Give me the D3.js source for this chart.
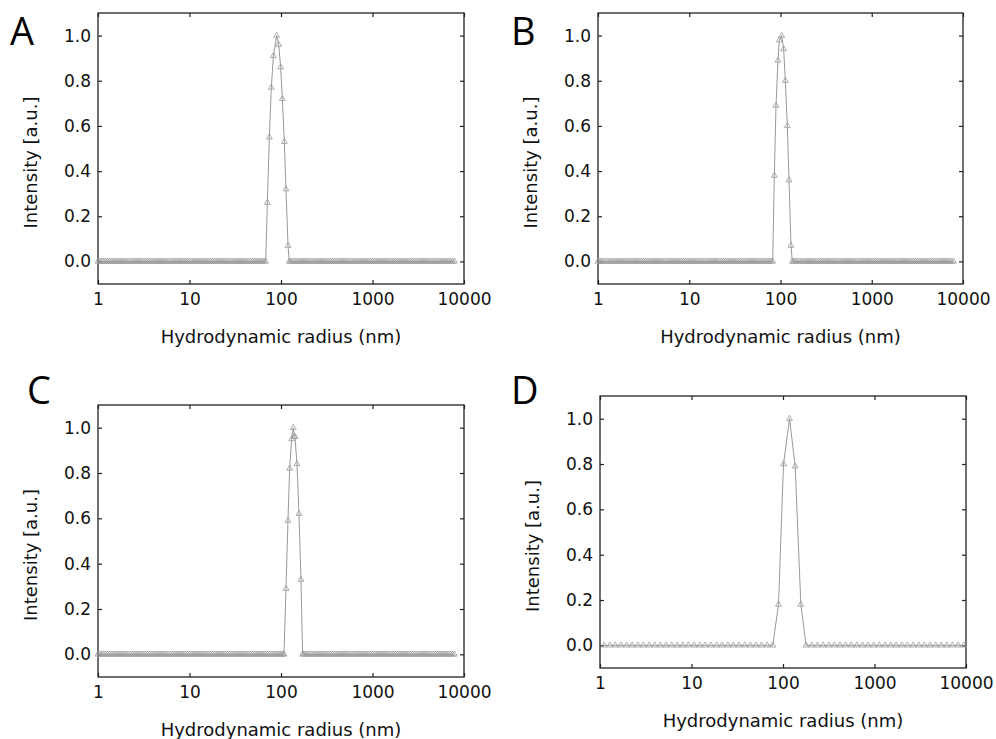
<!DOCTYPE html>
<html>
<head>
<meta charset="utf-8">
<script src="https://cdn.jsdelivr.net/npm/d3@7"></script>
<style>
  body { margin: 0; background: #fff; }
  svg { display: block; }
  .tick text { font-family: "DejaVu Sans", sans-serif; font-size: 17px; fill: #111; }
</style>
</head>
<body>
<svg id="chart" width="996" height="739"></svg>
<script>
// Size bins of the dense panels (A, B, C), all at zero intensity outside the peak
var fineBins = [
  1, 1.05, 1.10, 1.15, 1.21, 1.27, 1.33, 1.40, 1.47, 1.54, 1.62, 1.70, 1.78, 1.87, 1.96, 2.05,
  2.15, 2.26, 2.37, 2.49, 2.61, 2.74, 2.87, 3.01, 3.16, 3.32, 3.48, 3.65, 3.83, 4.02, 4.22, 4.42,
  4.64, 4.87, 5.11, 5.36, 5.62, 5.90, 6.19, 6.49, 6.81, 7.15, 7.50, 7.87, 8.25, 8.66, 9.09, 9.53,
  10.0, 10.5, 11.0, 11.5, 12.1, 12.7, 13.3, 14.0, 14.7, 15.4, 16.2, 17.0, 17.8, 18.7, 19.6, 20.5,
  21.5, 22.6, 23.7, 24.9, 26.1, 27.4, 28.7, 30.1, 31.6, 33.2, 34.8, 36.5, 38.3, 40.2, 42.2, 44.2,
  46.4, 48.7, 51.1, 53.6, 56.2, 59.0, 61.9, 64.9, 68.1, 71.5, 75.0, 78.7, 82.5, 86.6, 90.9, 95.3,
  100, 105, 110, 115, 121, 127, 133, 140, 147, 154, 162, 170, 178, 187, 196, 205,
  215, 226, 237, 249, 261, 274, 287, 301, 316, 332, 348, 365, 383, 402, 422, 442,
  464, 487, 511, 536, 562, 590, 619, 649, 681, 715, 750, 787, 825, 866, 909, 953,
  1000, 1050, 1100, 1150, 1210, 1270, 1330, 1400, 1470, 1540, 1620, 1700, 1780, 1870, 1960, 2050,
  2150, 2260, 2370, 2490, 2610, 2740, 2870, 3010, 3160, 3320, 3480, 3650, 3830, 4020, 4220, 4420,
  4640, 4870, 5110, 5360, 5620, 5900, 6190, 6490, 6810, 7150, 7500, 7870
];

// Size bins of panel D (coarser)
var coarseBins = [
  1.11, 1.28, 1.47, 1.69, 1.95, 2.25, 2.59, 2.98, 3.44, 3.96, 4.56, 5.26, 6.06, 6.98, 8.04, 9.26,
  10.7, 12.3, 14.1, 16.3, 18.8, 21.6, 24.9, 28.7, 33.1, 38.1, 43.9, 50.6, 58.3, 67.2, 77.4,
  179, 206, 238, 274, 316, 364, 419, 483, 557, 641, 739, 851, 981, 1130, 1302, 1500, 1728,
  1991, 2294, 2642, 3044, 3507, 4040, 4654, 5362, 6177, 7116, 8198, 9444
];

// Peak points
var radiusA = [68.0, 70.9, 74.6, 78.4, 82.5, 89.7, 94.3, 99.2, 103.4, 108.7, 113.4, 119.3, 123.3];
var intensityA = [0, 0.26, 0.55, 0.77, 0.91, 1.0, 0.96, 0.86, 0.72, 0.53, 0.32, 0.07, 0];

var radiusB = [82.1, 85.6, 89.3, 93.9, 97.1, 103.0, 108.3, 112.9, 118.8, 123.9, 130.3, 134.7];
var intensityB = [0, 0.38, 0.69, 0.89, 0.98, 1.0, 0.94, 0.80, 0.60, 0.36, 0.07, 0];

var radiusC = [107.8, 113.4, 119.2, 124.3, 130.7, 136.3, 140.0, 142.1, 149.5, 157.2, 165.3, 172.3];
var intensityC = [0, 0.29, 0.59, 0.82, 0.95, 1.0, 0.96, 0.96, 0.84, 0.62, 0.33, 0];

var radiusD = [77.4, 89.3, 101.3, 117.8, 135.9, 156.7, 179];
var intensityD = [0, 0.18, 0.80, 1.0, 0.79, 0.18, 0];

var xTicks = [1, 10, 100, 1000, 10000];
var yTicks = [0, 0.2, 0.4, 0.6, 0.8, 1.0];
var panelLetters = ["A", "B", "C", "D"];
var xTitle = "Hydrodynamic radius (nm)";
var yTitle = "Intensity [a.u.]";

// Frame of each panel in page pixels
var boxes = [
  { left: 98, top: 13, width: 366, height: 271, lx: 10, ly: 45 },
  { left: 598, top: 13, width: 365, height: 271, lx: 511, ly: 45 },
  { left: 98, top: 405, width: 366, height: 272, lx: 27, ly: 404 },
  { left: 600, top: 396, width: 366, height: 272, lx: 511, ly: 404 }
];

var panels = [
  { bins: fineBins, radius: radiusA, intensity: intensityA },
  { bins: fineBins, radius: radiusB, intensity: intensityB },
  { bins: fineBins, radius: radiusC, intensity: intensityC },
  { bins: coarseBins, radius: radiusD, intensity: intensityD }
];

// Zero bins on both sides of the peak, then the peak itself
function buildSeries(p) {
  var first = p.radius[0], last = p.radius[p.radius.length - 1];
  var pts = [];
  p.bins.forEach(function (r) { if (r < first) pts.push({ r: r, v: 0 }); });
  p.radius.forEach(function (r, i) { pts.push({ r: r, v: p.intensity[i] }); });
  p.bins.forEach(function (r) { if (r > last) pts.push({ r: r, v: 0 }); });
  return pts;
}

var svg = d3.select("#chart");
var tri = d3.symbol().type(d3.symbolTriangle).size(15);

panels.forEach(function (p, i) {
  var b = boxes[i];
  var x = d3.scaleLog().domain([1, 10000]).range([0, b.width]);
  var y = d3.scaleLinear().domain([-0.1, 1.1]).range([b.height, 0]);

  var g = svg.append("g")
    .attr("transform", "translate(" + b.left + "," + b.top + ")");

  // ticks on all four sides, pointing inward
  g.append("g")
    .attr("transform", "translate(0," + b.height + ")")
    .call(d3.axisBottom(x).tickValues(xTicks).tickFormat(d3.format("d")).tickSize(-4).tickPadding(9));
  g.append("g")
    .call(d3.axisTop(x).tickValues(xTicks).tickFormat("").tickSize(-4));
  g.append("g")
    .call(d3.axisLeft(y).tickValues(yTicks).tickFormat(d3.format(".1f")).tickSize(-4).tickPadding(7));
  g.append("g")
    .attr("transform", "translate(" + b.width + ",0)")
    .call(d3.axisRight(y).tickValues(yTicks).tickFormat("").tickSize(-4));
  g.selectAll(".domain").remove();
  g.selectAll(".tick line").attr("stroke", "#222").attr("stroke-width", 1.2);

  g.append("rect")
    .attr("width", b.width)
    .attr("height", b.height)
    .attr("fill", "none")
    .attr("stroke", "#222")
    .attr("stroke-width", 1.3);

  var pts = buildSeries(p);

  g.append("path")
    .datum(pts)
    .attr("fill", "none")
    .attr("stroke", "#8c8c8c")
    .attr("stroke-width", 0.9)
    .attr("d", d3.line().x(function (d) { return x(d.r); }).y(function (d) { return y(d.v); }));

  g.selectAll(".pt")
    .data(pts)
    .enter()
    .append("path")
    .attr("class", "pt")
    .attr("transform", function (d) { return "translate(" + x(d.r) + "," + y(d.v) + ")"; })
    .attr("d", tri)
    .attr("fill", "none")
    .attr("stroke", "#9a9a9a")
    .attr("stroke-width", 0.8);

  // axis titles
  g.append("text")
    .attr("x", b.width / 2)
    .attr("y", b.height + 59)
    .attr("text-anchor", "middle")
    .style("font-family", "DejaVu Sans, sans-serif")
    .style("font-size", "18px")
    .attr("fill", "#111")
    .text(xTitle);

  g.append("text")
    .attr("transform", "translate(-61," + (b.height / 2 + 14) + ") rotate(-90)")
    .attr("text-anchor", "middle")
    .style("font-family", "DejaVu Sans, sans-serif")
    .style("font-size", "18px")
    .attr("fill", "#111")
    .text(yTitle);

  svg.append("text")
    .attr("x", b.lx)
    .attr("y", b.ly)
    .style("font-family", "Open Sans, sans-serif")
    .style("font-size", "38px")
    .attr("fill", "#000")
    .text(panelLetters[i]);
});
</script>
</body>
</html>
